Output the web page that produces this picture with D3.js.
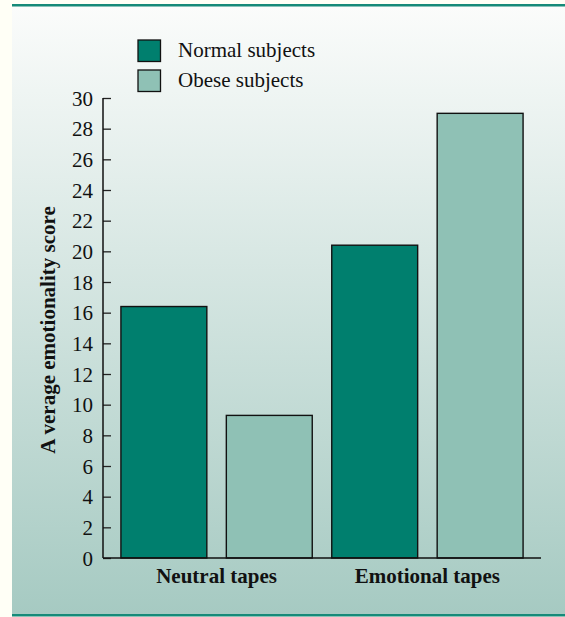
<!DOCTYPE html>
<html>
<head>
<meta charset="utf-8">
<script src="https://cdn.jsdelivr.net/npm/d3@7"></script>
<style>
  html, body { margin: 0; padding: 0; background: #fffff6; }
  svg { display: block; }
</style>
</head>
<body>
<div id="chart"></div>
<script>
// data
const groups = ["Neutral tapes", "Emotional tapes"];
const seriesNames = ["Normal subjects", "Obese subjects"];
const normalScores = [16.4, 20.4];
const obeseScores = [9.3, 29.0];
const yTicks = [0, 2, 4, 6, 8, 10, 12, 14, 16, 18, 20, 22, 24, 26, 28, 30];

(() => {
  const width = 565, height = 617;
  const margin = { top: 98, right: 24, bottom: 59, left: 103 };
  const innerW = 541 - margin.left;
  const innerH = height - margin.top - margin.bottom;
  const colors = ["#007f6e", "#8fc1b5"];
  const serif = "'Liberation Serif', 'Times New Roman', serif";

  const svg = d3.select("#chart").append("svg")
    .attr("width", width).attr("height", height);

  // panel background, light at top to teal-grey at bottom
  const grad = svg.append("defs").append("linearGradient")
    .attr("id", "bg").attr("x1", 0).attr("y1", 0).attr("x2", 0).attr("y2", 1);
  grad.append("stop").attr("offset", "0%").attr("stop-color", "#fbfcfb");
  grad.append("stop").attr("offset", "100%").attr("stop-color", "#a6cac2");

  svg.append("rect").attr("x", 12).attr("y", 5).attr("width", width - 12).attr("height", 609)
    .attr("fill", "url(#bg)");
  svg.append("rect").attr("x", 12).attr("y", 4).attr("width", width - 12).attr("height", 2.5)
    .attr("fill", "#168a79");
  svg.append("rect").attr("x", 12).attr("y", 614).attr("width", width - 12).attr("height", 2.5)
    .attr("fill", "#168a79");

  const g = svg.append("g").attr("transform", `translate(${margin.left},${margin.top})`);

  const data = [];
  groups.forEach((grp, i) => {
    data.push({ key: grp + "|0", series: 0, value: normalScores[i] });
    data.push({ key: grp + "|1", series: 1, value: obeseScores[i] });
  });

  const x = d3.scaleBand()
    .domain(data.map(d => d.key))
    .range([0, innerW])
    .paddingInner(0.185)
    .paddingOuter(0.17);

  const y = d3.scaleLinear().domain([0, 30]).range([innerH, 0]);

  // y axis, ticks pointing inward
  const yAxis = g.append("g")
    .call(d3.axisRight(y).tickValues(yTicks).tickSize(8).tickFormat(""));
  yAxis.select(".domain").remove();
  yAxis.selectAll("line").attr("stroke", "#222").attr("stroke-width", 1.3);
  g.append("line").attr("x1", 0).attr("x2", 0).attr("y1", 0).attr("y2", innerH)
    .attr("stroke", "#111").attr("stroke-width", 1.5);

  g.selectAll("text.ytick")
    .data(yTicks)
    .join("text")
    .attr("class", "ytick")
    .attr("x", -10)
    .attr("y", d => y(d))
    .attr("dy", "0.36em")
    .attr("text-anchor", "end")
    .style("font-family", serif)
    .style("font-size", "21px")
    .style("fill", "#111")
    .text(d => d);

  // bars
  g.selectAll("rect.bar")
    .data(data)
    .join("rect")
    .attr("class", "bar")
    .attr("x", d => x(d.key))
    .attr("y", d => y(d.value))
    .attr("width", x.bandwidth())
    .attr("height", d => innerH - y(d.value))
    .attr("fill", d => colors[d.series])
    .attr("stroke", "#111")
    .attr("stroke-width", 1.4);

  // x baseline
  g.append("line").attr("x1", 0).attr("x2", innerW).attr("y1", innerH).attr("y2", innerH)
    .attr("stroke", "#111").attr("stroke-width", 1.5);

  // group labels
  g.selectAll("text.grp")
    .data(groups)
    .join("text")
    .attr("class", "grp")
    .attr("x", d => (x(d + "|0") + x(d + "|1") + x.bandwidth()) / 2)
    .attr("y", innerH + 25)
    .attr("text-anchor", "middle")
    .style("font-family", serif)
    .style("font-size", "21px")
    .style("font-weight", "bold")
    .style("fill", "#111")
    .text(d => d);

  // y axis title
  svg.append("text")
    .attr("transform", "translate(55,330) rotate(-90)")
    .attr("text-anchor", "middle")
    .style("font-family", serif)
    .style("font-size", "21px")
    .style("font-weight", "bold")
    .style("fill", "#111")
    .text("A verage emotionality score");

  // legend
  const legend = svg.append("g").attr("transform", "translate(138,40)");
  const items = legend.selectAll("g")
    .data(seriesNames)
    .join("g")
    .attr("transform", (d, i) => `translate(0,${i * 30})`);
  items.append("rect")
    .attr("width", 22.5).attr("height", 21.5)
    .attr("fill", (d, i) => colors[i])
    .attr("stroke", "#111").attr("stroke-width", 1.3);
  items.append("text")
    .attr("x", 40).attr("y", 17)
    .style("font-family", serif)
    .style("font-size", "21px")
    .style("fill", "#111")
    .text(d => d);
})();
</script>
</body>
</html>
